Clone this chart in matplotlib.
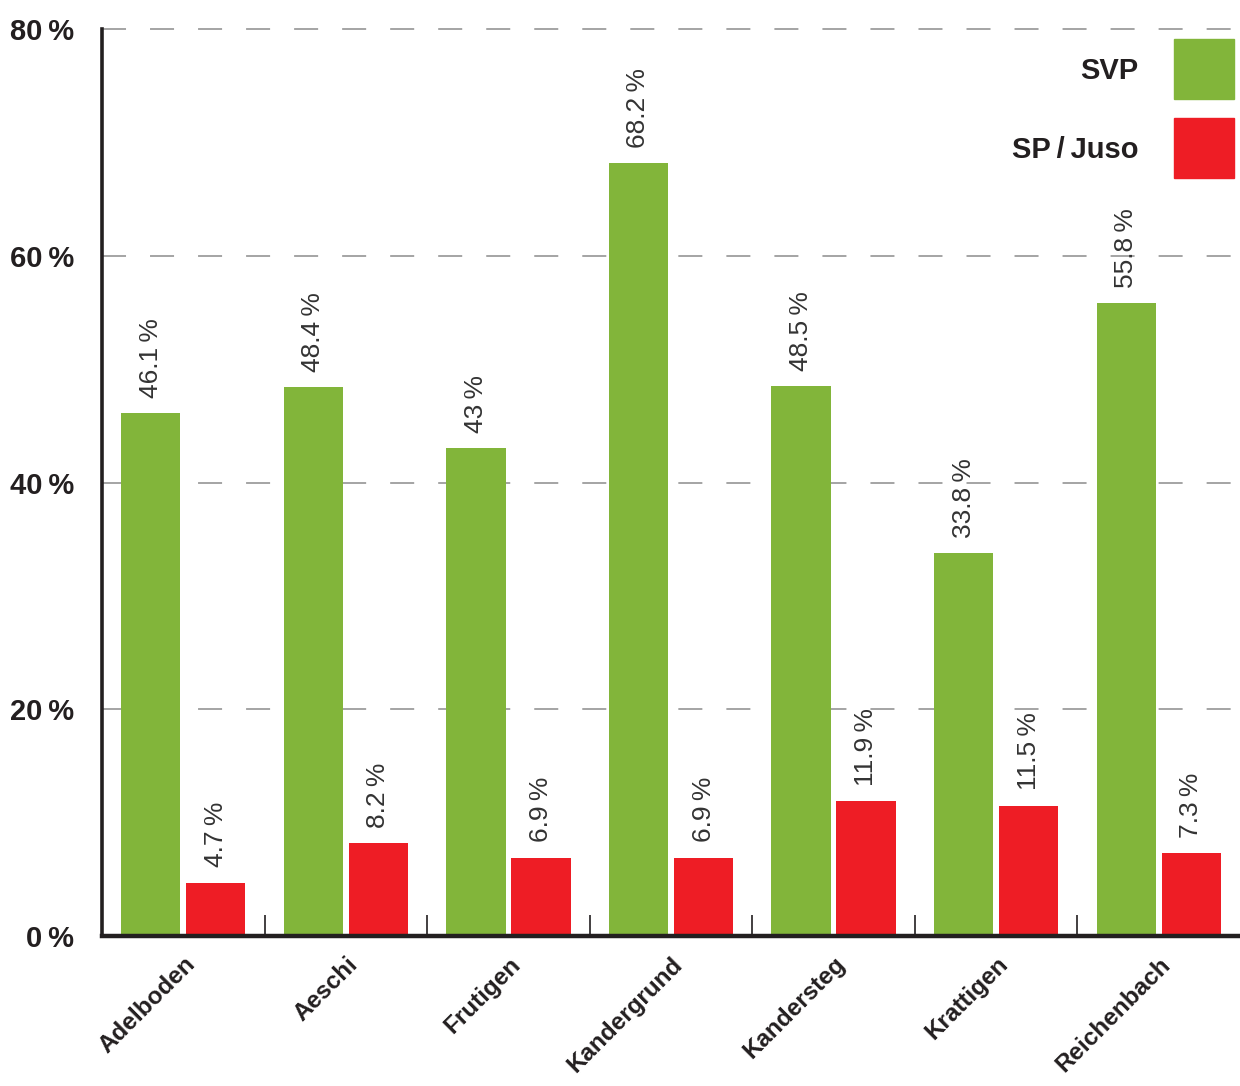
import matplotlib.pyplot as plt
import numpy as np
from matplotlib.patches import Rectangle

# data
towns = ['Adelboden', 'Aeschi', 'Frutigen', 'Kandergrund', 'Kandersteg',
         'Krattigen', 'Reichenbach']
svp = [46.1, 48.4, 43, 68.2, 48.5, 33.8, 55.8]
sp_juso = [4.7, 8.2, 6.9, 6.9, 11.9, 11.5, 7.3]
series_names = ['SVP', 'SP\u2009/\u2009Juso']
yticks = [0, 20, 40, 60, 80]

GREEN = '#82B53A'
RED = '#EE1D25'
TXT = '#231F20'
FAM = ['Liberation Sans Narrow', 'Liberation Sans', 'DejaVu Sans']

plt.rcParams['font.family'] = FAM

fig = plt.figure(figsize=(12.4, 10.86), dpi=100)
ax = fig.add_axes([102 / 1240, 150 / 1086, 1 - 102 / 1240, (936 - 29) / 1086])

x = np.arange(len(towns))
w = 0.365
off = 0.2
b1 = ax.bar(x - off, svp, width=w, color=GREEN, zorder=2)
b2 = ax.bar(x + off, sp_juso, width=w, color=RED, zorder=2)

def fmt(v):
    s = ('%g' % v)
    return s + '\u2009%'

for bars, vals in ((b1, svp), (b2, sp_juso)):
    for rect, v in zip(bars, vals):
        ax.annotate(fmt(v), (rect.get_x() + rect.get_width() / 2, v),
                    xytext=(0, 11), textcoords='offset points',
                    rotation=90, ha='center', va='bottom',
                    fontsize=19, color='#333333')

ax.set_xlim(-0.5, len(towns) - 0.5)
ax.set_ylim(0, 80)

ax.set_yticks(yticks)
ax.set_yticklabels(['%d\u2009%%' % t for t in yticks], fontsize=21,
                   fontweight='bold', color=TXT)
ax.tick_params(axis='y', length=0, pad=20)

ax.set_xticks(x)
ax.set_xticklabels(towns, rotation=45, ha='right', va='top',
                   rotation_mode='anchor', fontsize=17.5, fontweight='bold',
                   color=TXT)
ax.tick_params(axis='x', which='major', length=0, pad=12)
ax.set_xticks(x[:-1] + 0.5, minor=True)
ax.tick_params(axis='x', which='minor', direction='in', length=15,
               width=1.2, color=TXT)

for v in yticks[1:]:
    ax.axhline(v, color='#9D9D9D', lw=1.3, dashes=(13.3, 13.3), zorder=1,
               clip_on=False)

for s in ['top', 'right']:
    ax.spines[s].set_visible(False)
ax.spines['left'].set_linewidth(2.6)
ax.spines['bottom'].set_linewidth(3.2)
ax.spines['left'].set_color(TXT)
ax.spines['bottom'].set_color(TXT)

# legend
for i, (name, col) in enumerate(zip(series_names, [GREEN, RED])):
    top = 39 + i * 79
    fig.patches.append(Rectangle((1174 / 1240, 1 - (top + 60) / 1086),
                                 60 / 1240, 60 / 1086, color=col,
                                 transform=fig.transFigure))
    fig.text(1138 / 1240, 1 - (top + 32) / 1086, name, ha='right',
             va='center', fontsize=21, fontweight='bold', color=TXT)

fig.savefig('out.png', dpi=100)
